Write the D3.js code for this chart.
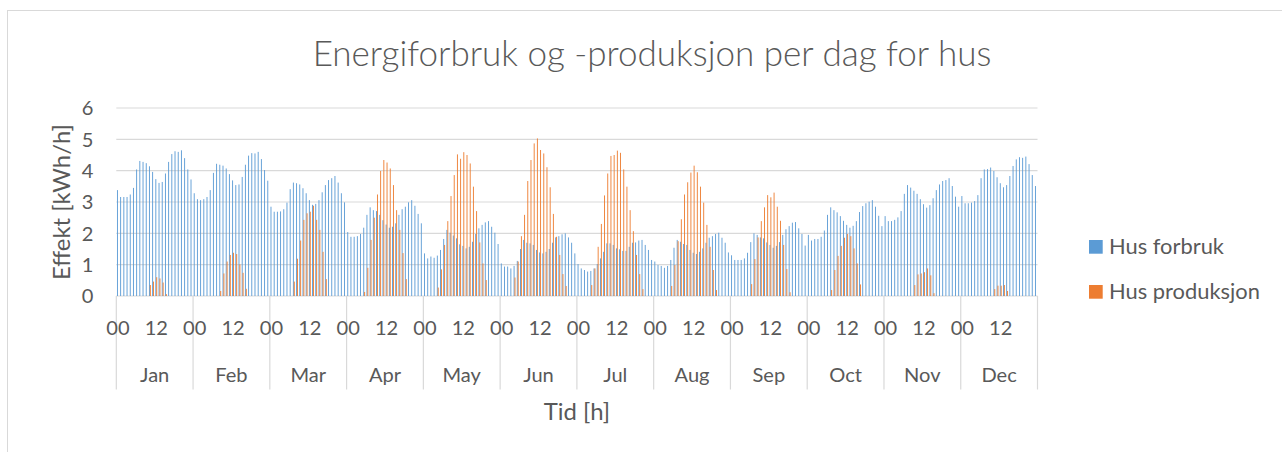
<!DOCTYPE html>
<html>
<head>
<meta charset="utf-8">
<script src="https://cdn.jsdelivr.net/npm/d3@7"></script>
<style>
    body { margin: 0; background: #fff; }
    svg { display: block; }
</style>
</head>
<body>
<div id="chart"></div>
<script>
(function () {
    'use strict';

    const title = 'Energiforbruk og -produksjon per dag for hus';
    const yTitle = 'Effekt [kWh/h]';
    const xTitle = 'Tid [h]';
    const months = ['Jan', 'Feb', 'Mar', 'Apr', 'May', 'Jun', 'Jul', 'Aug', 'Sep', 'Oct', 'Nov', 'Dec'];
    const hours = ['00', '01', '02', '03', '04', '05', '06', '07', '08', '09', '10', '11',
        '12', '13', '14', '15', '16', '17', '18', '19', '20', '21', '22', '23'];
    const hourTicks = ['00', '12'];
    const yTicks = [0, 1, 2, 3, 4, 5, 6];
    const seriesNames = ['Hus forbruk', 'Hus produksjon'];

    // kWh/h per hour of an average day, one row per month
    const forbruk = [
        [3.38, 3.16, 3.16, 3.16, 3.24, 3.45, 4.04, 4.31, 4.28, 4.24, 4.14, 3.96, 3.73, 3.61, 3.64, 3.91, 4.28, 4.53, 4.62, 4.60, 4.65, 4.40, 4.04, 3.72],
        [3.28, 3.09, 3.06, 3.09, 3.16, 3.38, 3.93, 4.22, 4.19, 4.16, 4.07, 3.89, 3.69, 3.54, 3.56, 3.80, 4.19, 4.48, 4.56, 4.55, 4.60, 4.37, 4.02, 3.68],
        [2.85, 2.69, 2.69, 2.70, 2.77, 2.98, 3.41, 3.62, 3.60, 3.56, 3.44, 3.28, 3.06, 2.91, 2.94, 3.06, 3.31, 3.54, 3.70, 3.76, 3.83, 3.62, 3.28, 2.99],
        [2.04, 1.89, 1.89, 1.91, 1.98, 2.18, 2.59, 2.83, 2.74, 2.71, 2.59, 2.42, 2.28, 2.18, 2.21, 2.32, 2.59, 2.77, 2.85, 2.99, 3.06, 2.88, 2.62, 2.32],
        [1.36, 1.20, 1.26, 1.22, 1.29, 1.47, 1.82, 2.11, 2.02, 1.93, 1.84, 1.65, 1.60, 1.52, 1.57, 1.73, 1.98, 2.16, 2.27, 2.35, 2.39, 2.21, 2.02, 1.66],
        [1.04, 0.94, 0.94, 0.88, 0.96, 1.12, 1.50, 1.79, 1.70, 1.68, 1.63, 1.47, 1.39, 1.36, 1.41, 1.50, 1.70, 1.87, 1.91, 1.97, 2.00, 1.87, 1.70, 1.36],
        [1.02, 0.88, 0.83, 0.78, 0.80, 0.88, 1.02, 1.20, 1.41, 1.68, 1.68, 1.63, 1.52, 1.49, 1.44, 1.44, 1.57, 1.70, 1.71, 1.77, 1.79, 1.63, 1.47, 1.15],
        [1.10, 0.99, 0.96, 0.90, 0.96, 1.15, 1.54, 1.79, 1.73, 1.66, 1.63, 1.47, 1.38, 1.34, 1.41, 1.52, 1.70, 1.86, 1.91, 1.98, 2.02, 1.86, 1.70, 1.39],
        [1.30, 1.15, 1.15, 1.15, 1.20, 1.38, 1.72, 2.00, 1.95, 1.87, 1.84, 1.71, 1.63, 1.54, 1.60, 1.72, 1.95, 2.13, 2.23, 2.34, 2.36, 2.16, 1.98, 1.61],
        [1.95, 1.77, 1.82, 1.82, 1.89, 2.09, 2.59, 2.83, 2.74, 2.67, 2.55, 2.40, 2.27, 2.18, 2.24, 2.39, 2.68, 2.87, 2.96, 3.01, 3.06, 2.85, 2.56, 2.23],
        [2.55, 2.39, 2.39, 2.43, 2.51, 2.71, 3.26, 3.54, 3.46, 3.36, 3.26, 3.09, 2.93, 2.82, 2.90, 3.12, 3.38, 3.56, 3.67, 3.70, 3.76, 3.51, 3.17, 2.85],
        [3.19, 2.96, 2.96, 2.98, 3.03, 3.22, 3.76, 4.04, 4.05, 4.10, 3.99, 3.79, 3.60, 3.47, 3.54, 3.83, 4.15, 4.36, 4.43, 4.41, 4.45, 4.21, 3.86, 3.51]
    ];

    const produksjon = [
        [0, 0, 0, 0, 0, 0, 0, 0, 0, 0, 0.35, 0.46, 0.60, 0.56, 0.43, 0.06, 0, 0, 0, 0, 0, 0, 0, 0],
        [0, 0, 0, 0, 0, 0, 0, 0, 0.16, 0.72, 1.10, 1.31, 1.38, 1.34, 1.01, 0.74, 0.23, 0, 0, 0, 0, 0, 0, 0],
        [0, 0, 0, 0, 0, 0, 0, 0.46, 1.19, 1.77, 2.43, 2.64, 2.69, 2.88, 2.43, 2.11, 1.41, 0.54, 0, 0, 0, 0, 0, 0],
        [0, 0, 0, 0, 0, 0.13, 0.90, 1.79, 2.50, 3.24, 3.99, 4.34, 4.26, 4.07, 3.54, 2.74, 2.11, 1.37, 0.54, 0, 0, 0, 0, 0],
        [0, 0, 0, 0, 0.27, 0.85, 1.63, 2.39, 3.19, 3.86, 4.52, 4.38, 4.59, 4.50, 4.23, 3.49, 2.71, 1.71, 1.04, 0.51, 0, 0, 0, 0],
        [0, 0, 0, 0, 0.59, 1.10, 1.91, 2.59, 3.67, 4.34, 4.87, 5.03, 4.66, 4.55, 4.11, 3.47, 2.62, 1.89, 1.31, 0.70, 0.32, 0, 0, 0],
        [0, 0, 0, 0, 0.35, 0.88, 1.57, 2.30, 3.21, 3.91, 4.47, 4.50, 4.64, 4.57, 4.04, 3.49, 2.74, 2.07, 1.31, 0.70, 0.22, 0, 0, 0],
        [0, 0, 0, 0, 0, 0.32, 0.99, 1.75, 2.45, 3.24, 3.63, 3.94, 4.16, 3.95, 3.49, 2.98, 2.27, 1.57, 0.83, 0.19, 0, 0, 0, 0],
        [0, 0, 0, 0, 0, 0, 0.38, 1.18, 1.87, 2.39, 2.83, 3.22, 3.15, 3.30, 2.85, 2.40, 1.63, 0.86, 0.12, 0, 0, 0, 0, 0],
        [0, 0, 0, 0, 0, 0, 0, 0.19, 0.83, 1.28, 1.60, 1.86, 1.98, 1.91, 1.52, 1.04, 0.37, 0, 0, 0, 0, 0, 0, 0],
        [0, 0, 0, 0, 0, 0, 0, 0, 0, 0.35, 0.69, 0.72, 0.76, 0.88, 0.66, 0.09, 0, 0, 0, 0, 0, 0, 0, 0],
        [0, 0, 0, 0, 0, 0, 0, 0, 0, 0, 0.22, 0.33, 0.33, 0.35, 0.16, 0, 0, 0, 0, 0, 0, 0, 0, 0]
    ];

    const width = 1282;
    const height = 452;
    const plot = { left: 116.3, right: 1037.5, top: 108, bottom: 296 };
    const colors = ['#5b9bd5', '#ed7d31'];
    const grid = '#d9d9d9';
    const ink = '#595959';
    const font = 'Lato, "Open Sans", "DejaVu Sans", sans-serif';

    const svg = d3.select('#chart').append('svg')
        .attr('width', width)
        .attr('height', height)
        .attr('font-family', font);

    // size a font so a string takes the width it has in the original
    const fitSize = (text, target, weight = 400) => {
        const t = svg.append('text').attr('font-size', 20).attr('font-weight', weight).text(text);
        const w = t.node().getComputedTextLength();
        t.remove();
        return 20 * target / w;
    };
    const titleSize = fitSize(title, 679, 300);
    const legendSize = fitSize(seriesNames[1], 151);
    const tickSize = fitSize('00', 23.3);
    const axisTitleSize = fitSize(yTitle, 156);

    svg.append('rect')
        .attr('x', 7.5).attr('y', 10.5)
        .attr('width', width).attr('height', height)
        .attr('fill', '#fff')
        .attr('stroke', grid);

    const xMonth = d3.scaleBand().domain(months).range([plot.left, plot.right]);
    const xHour = d3.scaleBand().domain(hours).range([0, xMonth.bandwidth()]);
    const xSeries = d3.scaleBand().domain(seriesNames).range([0, xHour.bandwidth()])
        .paddingInner(0).paddingOuter(0.75);
    const y = d3.scaleLinear().domain([0, 6]).range([plot.bottom, plot.top]);

    // gridlines
    svg.append('g')
        .attr('stroke', grid)
        .attr('stroke-width', 1.2)
        .selectAll('line')
        .data(yTicks)
        .join('line')
        .attr('x1', plot.left).attr('x2', plot.right)
        .attr('y1', d => y(d)).attr('y2', d => y(d));

    // bars
    const rows = months.flatMap((m, i) => hours.map((h, j) => ({
        month: m, hour: h, values: [forbruk[i][j], produksjon[i][j]]
    })));

    const cat = svg.append('g')
        .selectAll('g')
        .data(rows)
        .join('g')
        .attr('transform', d => `translate(${xMonth(d.month) + xHour(d.hour)},0)`);

    cat.selectAll('rect')
        .data(d => d.values.map((v, k) => ({ name: seriesNames[k], v, k })))
        .join('rect')
        .attr('x', d => xSeries(d.name))
        .attr('width', xSeries.bandwidth())
        .attr('y', d => y(d.v))
        .attr('height', d => y(0) - y(d.v))
        .attr('fill', d => colors[d.k]);

    // y tick labels
    svg.append('g')
        .attr('font-size', tickSize)
        .attr('fill', ink)
        .attr('text-anchor', 'end')
        .selectAll('text')
        .data(yTicks)
        .join('text')
        .attr('x', 93.5)
        .attr('y', d => y(d))
        .attr('dy', '0.36em')
        .text(d => d);

    // category axis: hours, then months
    const xAxis = svg.append('g').attr('fill', ink).attr('font-size', tickSize).attr('text-anchor', 'middle');

    xAxis.selectAll('line')
        .data(d3.range(months.length + 1))
        .join('line')
        .attr('x1', i => i < months.length ? xMonth(months[i]) : plot.right)
        .attr('x2', i => i < months.length ? xMonth(months[i]) : plot.right)
        .attr('y1', plot.bottom)
        .attr('y2', 389.5)
        .attr('stroke', grid)
        .attr('stroke-width', 1.2);

    xAxis.append('g')
        .selectAll('text')
        .data(months.flatMap(m => hourTicks.map(h => ({ m, h }))))
        .join('text')
        .attr('x', d => xMonth(d.m) + xHour(d.h) + xHour.bandwidth() / 2)
        .attr('y', 335)
        .text(d => d.h);

    xAxis.append('g')
        .selectAll('text')
        .data(months)
        .join('text')
        .attr('x', d => xMonth(d) + xMonth.bandwidth() / 2)
        .attr('y', 382)
        .text(d => d);

    // titles
    svg.append('text')
        .attr('x', 652)
        .attr('y', 65.5)
        .attr('text-anchor', 'middle')
        .attr('font-size', titleSize)
        .attr('font-weight', 300)
        .attr('fill', ink)
        .text(title);

    svg.append('text')
        .attr('transform', `translate(70,${(plot.top + plot.bottom) / 2}) rotate(-90)`)
        .attr('text-anchor', 'middle')
        .attr('font-size', axisTitleSize)
        .attr('fill', ink)
        .text(yTitle);

    svg.append('text')
        .attr('x', (plot.left + plot.right) / 2)
        .attr('y', 419.5)
        .attr('text-anchor', 'middle')
        .attr('font-size', axisTitleSize)
        .attr('fill', ink)
        .text(xTitle);

    // legend
    const legend = svg.append('g')
        .selectAll('g')
        .data(seriesNames)
        .join('g')
        .attr('transform', (d, i) => `translate(1089,${240 + i * 45})`);

    legend.append('rect')
        .attr('width', 13.7)
        .attr('height', 13.7)
        .attr('fill', (d, i) => colors[i]);

    legend.append('text')
        .attr('x', 20)
        .attr('y', 13.8)
        .attr('font-size', legendSize)
        .attr('fill', ink)
        .text(d => d);
})();
</script>
</body>
</html>
